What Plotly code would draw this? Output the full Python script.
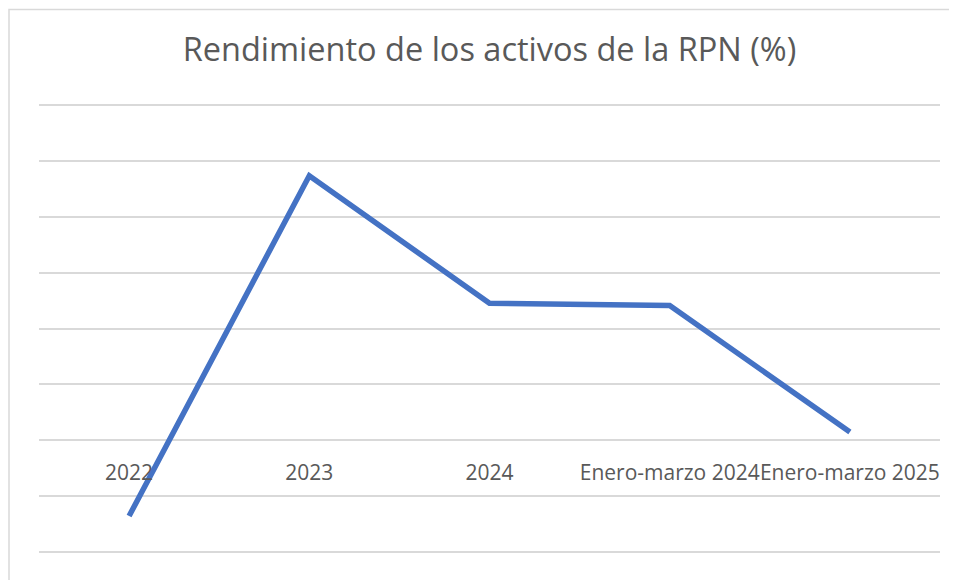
import plotly.graph_objects as go

categories = ["2022", "2023", "2024", "Enero-marzo 2024", "Enero-marzo 2025"]
values = [-1.35, 4.73, 2.45, 2.41, 0.15]
title_text = "Rendimiento de los activos de la RPN (%)"

OFF = 8  # default page body margin
W, H = 957 - OFF, 580 - OFF
L, R, T, B = 39 - OFF, 17, 99.1 - OFF, 21.7
ymin, ymax = -2.1, 6.1
plot_h = H - T - B
plot_w = W - L - R

fig = go.Figure()
fig.add_trace(go.Scatter(
    x=categories, y=values, mode="lines",
    line=dict(color="#4472C4", width=5.5),
    hoverinfo="x+y",
))

zero_pos = (0 - ymin) / (ymax - ymin)

fig.update_layout(
    width=W, height=H,
    margin=dict(l=L, r=R, t=T, b=B, pad=0),
    paper_bgcolor="white", plot_bgcolor="white",
    showlegend=False,
    title=dict(text=title_text, x=(L + plot_w / 2) / W, xanchor="center",
               y=1 - (50 - OFF) / H, yanchor="middle", yref="container",
               font=dict(family="Open Sans", size=32.5, color="#595959")),
    xaxis=dict(type="category", range=[-0.5, 4.5], showgrid=False,
               showline=False, zeroline=False, anchor="free", position=zero_pos,
               ticks="", ticklabelstandoff=18, tickangle=0, dtick=1,
               tickfont=dict(family="Open Sans", size=21, color="#595959")),
    yaxis=dict(range=[ymin, ymax], dtick=1, tick0=0, showgrid=True,
               gridcolor="#D9D9D9", gridwidth=1.5, zeroline=False,
               showticklabels=False, showline=False, ticks=""),
    shapes=[dict(type="rect", xref="paper", yref="paper",
                 x0=(9 - OFF - L) / plot_w, x1=(W + 10 - L) / plot_w,
                 y0=(H - B - (H + 10)) / plot_h, y1=(H - B - 1.5) / plot_h,
                 line=dict(color="#D9D9D9", width=1.5), layer="below")],
)

fig.write_html("out.html", config={"displayModeBar": False})
